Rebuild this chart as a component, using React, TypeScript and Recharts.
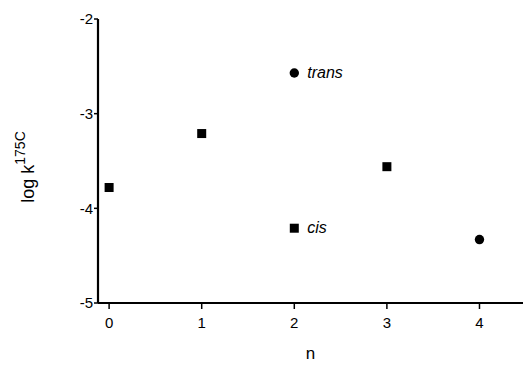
import React from 'react';
import { ScatterChart, Scatter, XAxis, YAxis, Label, LabelList, ReferenceLine } from 'recharts';

// log k(175C) versus n
const squareN = [0, 1, 2, 3];
const squareLogK = [-3.78, -3.21, -4.21, -3.56];
const squareTags = ['', '', 'cis', ''];

const circleN = [2, 4];
const circleLogK = [-2.57, -4.33];
const circleTags = ['trans', ''];

const xTicks = [0, 1, 2, 3, 4];
const yTicks = [-5, -4, -3, -2];
const xDomain = [-0.12, 4.47];
const yDomain = [-5, -2];

const squares = squareN.map((n, i) => ({ n, logk: squareLogK[i], tag: squareTags[i] }));
const circles = circleN.map((n, i) => ({ n, logk: circleLogK[i], tag: circleTags[i] }));

const FONT = '"Liberation Sans", Arial, sans-serif';

const Square = (p: any) => (
  <rect x={p.cx - 4.5} y={p.cy - 4.5} width={9} height={9} fill="#000" />
);

const Dot = (p: any) => <circle cx={p.cx} cy={p.cy} r={4.7} fill="#000" />;

const TagLabel = (p: any) => {
  if (!p.value) return null;
  const cx = p.x + (p.width || 0) / 2;
  const cy = p.y + (p.height || 0) / 2;
  return (
    <text x={cx + 13} y={cy + 5} fontSize={16} fontStyle="italic" fontFamily={FONT} fill="#000">
      {p.value}
    </text>
  );
};

const YTitle = (p: any) => {
  const vb = p.viewBox || { y: 19, height: 284 };
  const cy = vb.y + vb.height / 2 + 6;
  const x = 34;
  return (
    <text
      x={x}
      y={cy}
      transform={`rotate(-90, ${x}, ${cy})`}
      textAnchor="middle"
      fontSize={18}
      fontFamily={FONT}
      fill="#000"
    >
      log k
      <tspan fontSize={14} dy={-9}>175C</tspan>
    </text>
  );
};

const tickStyle = { fontSize: 15, fontFamily: FONT, fill: '#000' };
const tickLine = { stroke: '#000', strokeWidth: 1.5 };

export default function App() {
  return (
    <div style={{ position: 'absolute', left: 0, top: 0, background: '#fff' }}>
      <ScatterChart width={523} height={367} margin={{ top: 19, right: 0, bottom: 0, left: 0 }}>
        <XAxis
          type="number"
          dataKey="n"
          domain={xDomain}
          ticks={xTicks}
          allowDataOverflow
          axisLine={false}
          tickLine={tickLine}
          tickSize={6}
          tickMargin={8}
          tick={tickStyle}
          height={64}
        >
          <Label value="n" position="insideBottom" offset={8} style={{ fontSize: 17, fontFamily: FONT, fill: '#000' }} />
        </XAxis>
        <YAxis
          type="number"
          dataKey="logk"
          domain={yDomain}
          ticks={yTicks}
          axisLine={false}
          tickLine={tickLine}
          tickSize={4}
          tickMargin={1}
          tick={tickStyle}
          width={98}
        >
          <Label content={<YTitle />} />
        </YAxis>
        <ReferenceLine x={xDomain[0]} stroke="#000" strokeWidth={2.2} />
        <ReferenceLine y={yDomain[0]} stroke="#000" strokeWidth={2.2} />
        <Scatter data={squares} shape={<Square />} isAnimationActive={false}>
          <LabelList dataKey="tag" content={<TagLabel />} />
        </Scatter>
        <Scatter data={circles} shape={<Dot />} isAnimationActive={false}>
          <LabelList dataKey="tag" content={<TagLabel />} />
        </Scatter>
      </ScatterChart>
    </div>
  );
}
